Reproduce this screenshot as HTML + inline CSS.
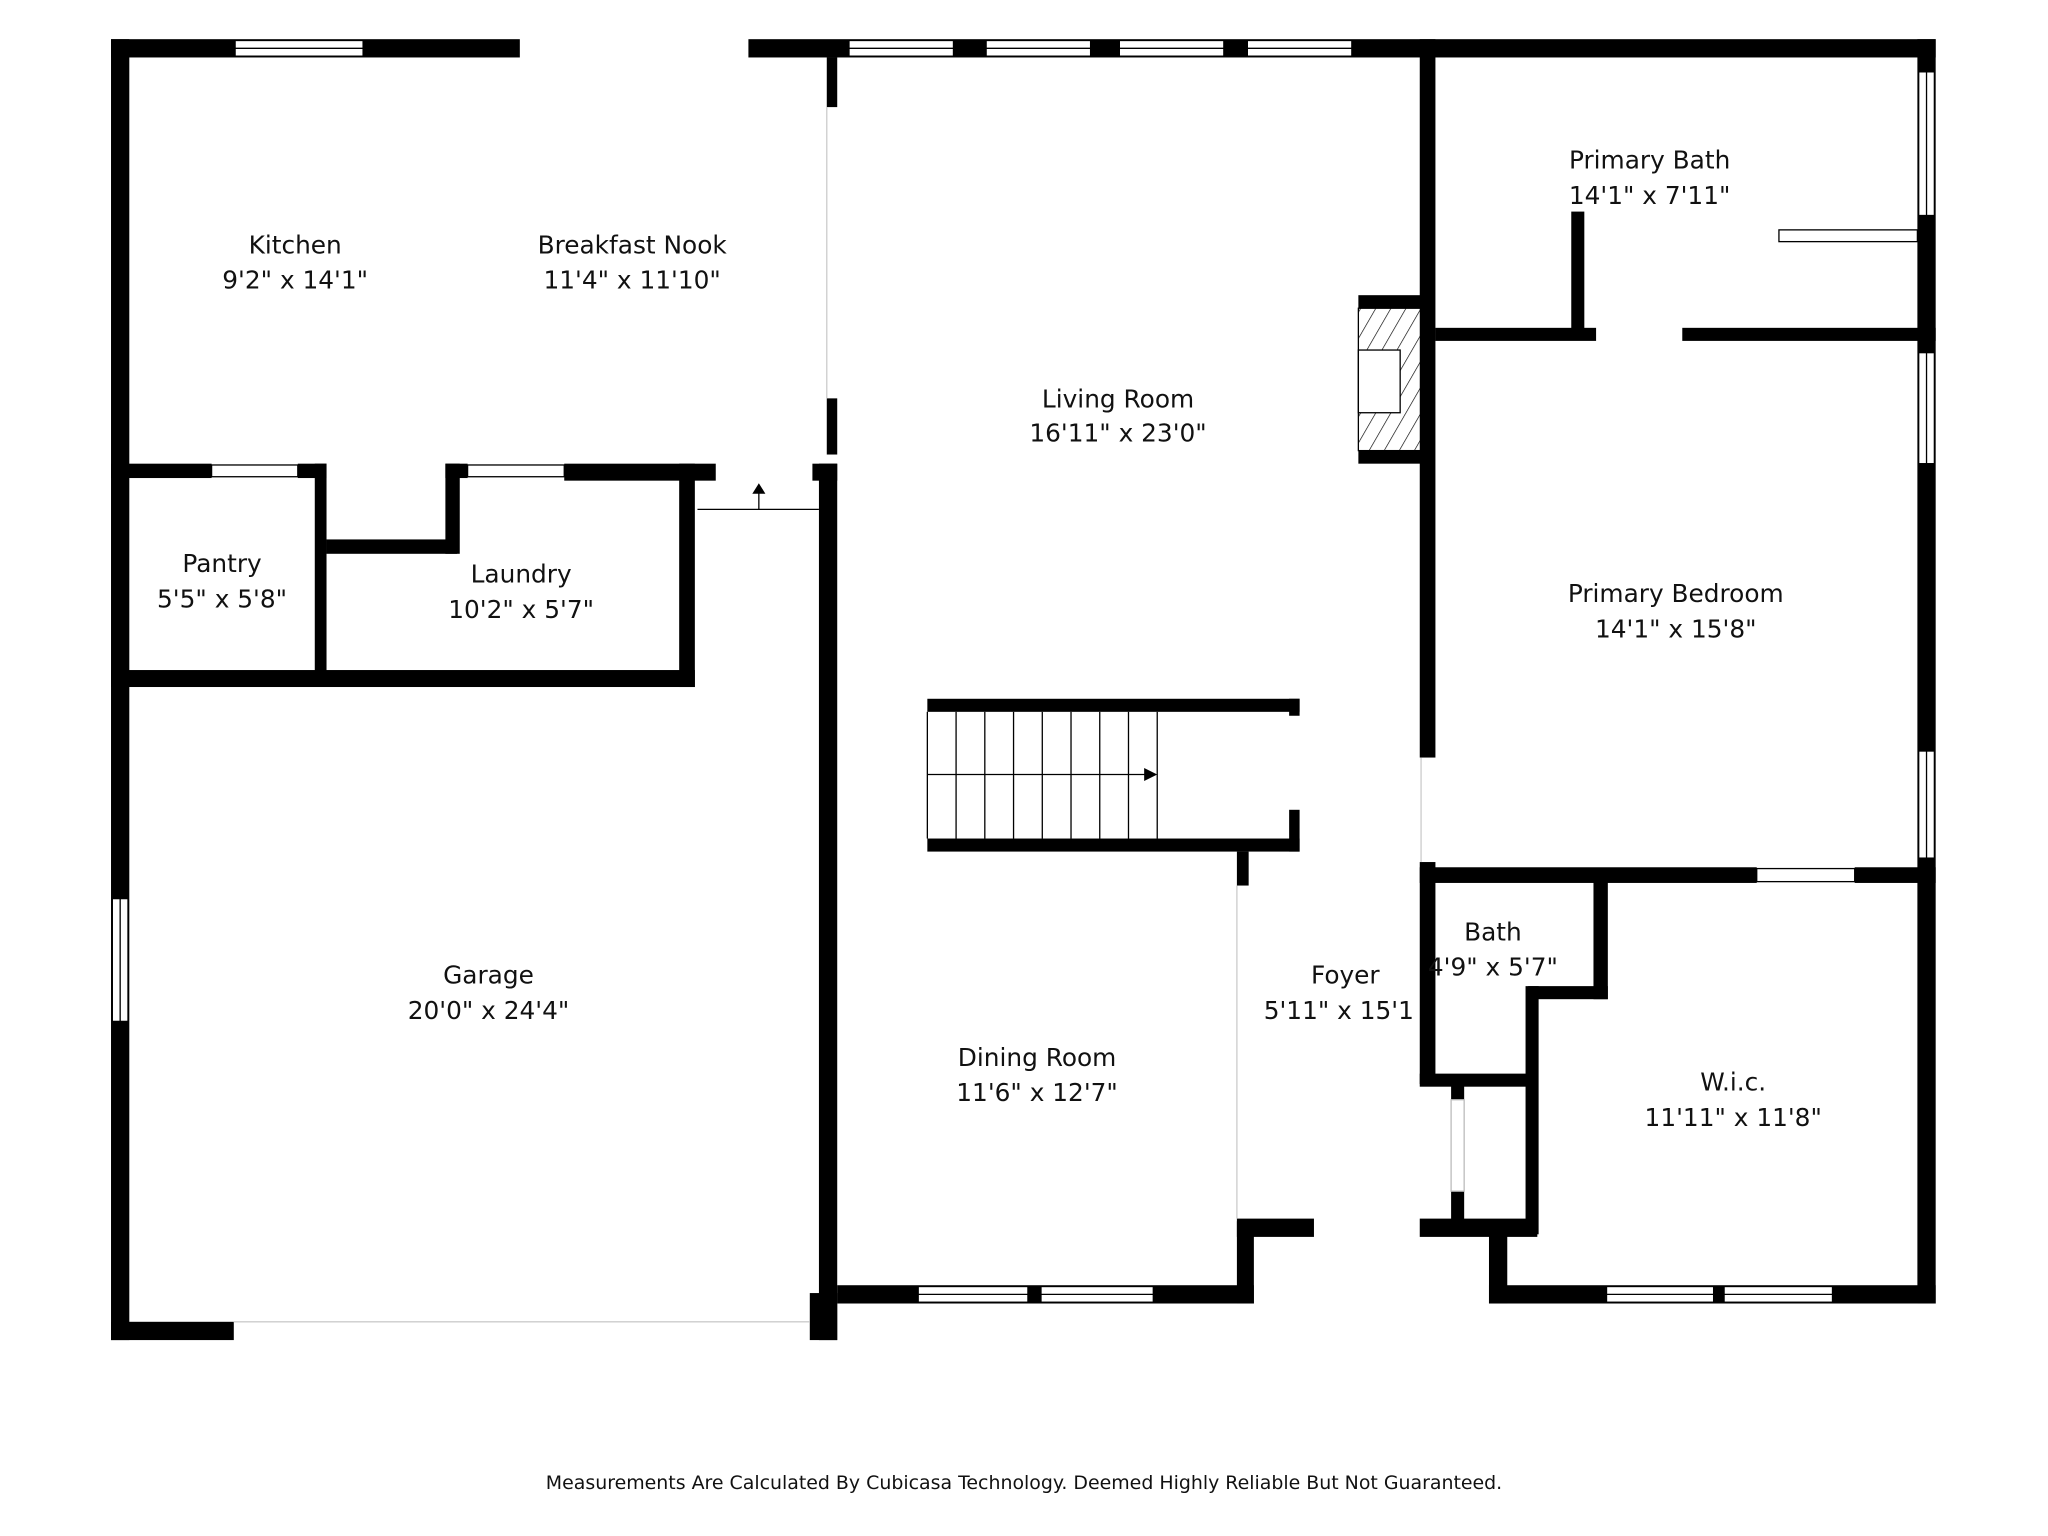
<!DOCTYPE html>
<html><head><style>
html,body{margin:0;padding:0;background:#fff;}
svg{display:block;}
text{font-family:"DejaVu Sans","Liberation Sans",sans-serif;fill:#111;}
</style></head><body>
<svg width="2048" height="1536" viewBox="0 0 1568 1176" xmlns="http://www.w3.org/2000/svg">
<defs>
<pattern id="h" width="10" height="10" patternUnits="userSpaceOnUse" patternTransform="rotate(30)">
<line x1="0" y1="0" x2="0" y2="10" stroke="#000" stroke-width="1"/>
</pattern>
</defs>
<g fill="#000">
<rect x="85" y="30" width="313" height="14"/>
<rect x="573" y="30" width="909" height="14"/>
<rect x="85" y="30" width="14" height="996"/>
<rect x="85" y="1012" width="94" height="14"/>
<rect x="620" y="990" width="21" height="36"/>
<rect x="633" y="44" width="8" height="38"/>
<rect x="633" y="305" width="8" height="43"/>
<rect x="627" y="355" width="14" height="671"/>
<rect x="85" y="355" width="77" height="11"/>
<rect x="228" y="355" width="22" height="11"/>
<rect x="241" y="355" width="9" height="165"/>
<rect x="250" y="413" width="100" height="11"/>
<rect x="341" y="355" width="11" height="69"/>
<rect x="341" y="355" width="17" height="11"/>
<rect x="432" y="355" width="116" height="13"/>
<rect x="520" y="355" width="12" height="171"/>
<rect x="622" y="355" width="19" height="13"/>
<rect x="85" y="513" width="447" height="13"/>
<rect x="641" y="984" width="319" height="14"/>
<rect x="947" y="935" width="13" height="63"/>
<rect x="947" y="933" width="59" height="14"/>
<rect x="1087" y="933" width="90" height="14"/>
<rect x="710" y="535" width="285" height="10"/>
<rect x="710" y="642" width="285" height="10"/>
<rect x="987" y="535" width="8" height="13"/>
<rect x="987" y="620" width="8" height="32"/>
<rect x="947" y="652" width="9" height="26"/>
<rect x="1040" y="226" width="55" height="10"/>
<rect x="1040" y="345" width="55" height="10"/>
<rect x="1087" y="30" width="12" height="550"/>
<rect x="1087" y="660" width="12" height="170"/>
<rect x="1099" y="251" width="123" height="10"/>
<rect x="1288" y="251" width="194" height="10"/>
<rect x="1203" y="162" width="10" height="96"/>
<rect x="1468" y="30" width="14" height="968"/>
<rect x="1087" y="664" width="258" height="12"/>
<rect x="1420" y="664" width="62" height="12"/>
<rect x="1220" y="670" width="11" height="95"/>
<rect x="1170" y="755" width="61" height="10"/>
<rect x="1168" y="755" width="10" height="190"/>
<rect x="1087" y="822" width="88" height="10"/>
<rect x="1111" y="830" width="10" height="12"/>
<rect x="1111" y="912" width="10" height="30"/>
<rect x="1140" y="935" width="14" height="63"/>
<rect x="1140" y="984" width="342" height="14"/>
</g>
<rect x="1040" y="236" width="48" height="109" fill="url(#h)" stroke="#000" stroke-width="1"/>
<rect x="1040" y="268" width="32" height="48" fill="#fff" stroke="#000" stroke-width="1"/>
<g stroke="#000" stroke-width="1" fill="none">
<line x1="534" y1="390" x2="627" y2="390"/>
<rect x="1362" y="176" width="106" height="9"/>
<rect x="1111" y="842" width="10" height="70" stroke="#bbb"/>
<line x1="179" y1="1012" x2="620" y2="1012" stroke="#ccc"/>
<line x1="633" y1="82" x2="633" y2="305" stroke="#ccc"/>
<line x1="947" y1="678" x2="947" y2="933" stroke="#ccc"/>
<line x1="1088" y1="580" x2="1088" y2="660" stroke="#ccc"/>
</g>
<g stroke="#000" stroke-width="1">
<line x1="710" y1="545" x2="710" y2="642"/>
<line x1="732" y1="545" x2="732" y2="642"/>
<line x1="754" y1="545" x2="754" y2="642"/>
<line x1="776" y1="545" x2="776" y2="642"/>
<line x1="798" y1="545" x2="798" y2="642"/>
<line x1="820" y1="545" x2="820" y2="642"/>
<line x1="842" y1="545" x2="842" y2="642"/>
<line x1="864" y1="545" x2="864" y2="642"/>
<line x1="886" y1="545" x2="886" y2="642"/>
<line x1="710" y1="593" x2="880" y2="593"/>
<line x1="581" y1="372" x2="581" y2="390"/>
</g>
<polygon points="876,588 886,593 876,598" fill="#000"/>
<polygon points="576,378 581,370 586,378" fill="#000"/>
<g fill="#fff" stroke="#000" stroke-width="1">
<rect x="180" y="31" width="98" height="12"/><line x1="180" y1="37" x2="278" y2="37"/>
<rect x="650" y="31" width="80" height="12"/><line x1="650" y1="37" x2="730" y2="37"/>
<rect x="755" y="31" width="80" height="12"/><line x1="755" y1="37" x2="835" y2="37"/>
<rect x="857" y="31" width="80" height="12"/><line x1="857" y1="37" x2="937" y2="37"/>
<rect x="955" y="31" width="80" height="12"/><line x1="955" y1="37" x2="1035" y2="37"/>
<rect x="86" y="688" width="12" height="94"/><line x1="92" y1="688" x2="92" y2="782"/>
<rect x="162" y="356" width="66" height="9"/>
<rect x="358" y="356" width="74" height="9"/>
<rect x="703" y="985" width="84" height="12"/><line x1="703" y1="991" x2="787" y2="991"/>
<rect x="797" y="985" width="86" height="12"/><line x1="797" y1="991" x2="883" y2="991"/>
<rect x="1469" y="55" width="12" height="110"/><line x1="1475" y1="55" x2="1475" y2="165"/>
<rect x="1469" y="270" width="12" height="85"/><line x1="1475" y1="270" x2="1475" y2="355"/>
<rect x="1469" y="575" width="12" height="82"/><line x1="1475" y1="575" x2="1475" y2="657"/>
<rect x="1345" y="665" width="75" height="10"/>
<rect x="1230" y="985" width="82" height="12"/><line x1="1230" y1="991" x2="1312" y2="991"/>
<rect x="1320" y="985" width="83" height="12"/><line x1="1320" y1="991" x2="1403" y2="991"/>
</g>
<g font-size="19" text-anchor="middle">
<text x="226" y="194">Kitchen</text><text x="226" y="221">9'2" x 14'1"</text>
<text x="484" y="194">Breakfast Nook</text><text x="484" y="221">11'4" x 11'10"</text>
<text x="856" y="312">Living Room</text><text x="856" y="338">16'11" x 23'0"</text>
<text x="1263" y="129">Primary Bath</text><text x="1263" y="156">14'1" x 7'11"</text>
<text x="1283" y="461">Primary Bedroom</text><text x="1283" y="488">14'1" x 15'8"</text>
<text x="170" y="438">Pantry</text><text x="170" y="465">5'5" x 5'8"</text>
<text x="399" y="446">Laundry</text><text x="399" y="473">10'2" x 5'7"</text>
<text x="374" y="753">Garage</text><text x="374" y="780">20'0" x 24'4"</text>
<text x="794" y="816">Dining Room</text><text x="794" y="843">11'6" x 12'7"</text>
<text x="1030" y="753">Foyer</text><text x="1025" y="780">5'11" x 15'1</text>
<text x="1143" y="720">Bath</text><text x="1143" y="747">4'9" x 5'7"</text>
<text x="1327" y="835">W.i.c.</text><text x="1327" y="862">11'11" x 11'8"</text>
</g>
<text x="784" y="1140" font-size="14.5" text-anchor="middle">Measurements Are Calculated By Cubicasa Technology. Deemed Highly Reliable But Not Guaranteed.</text>
</svg>
</body></html>
